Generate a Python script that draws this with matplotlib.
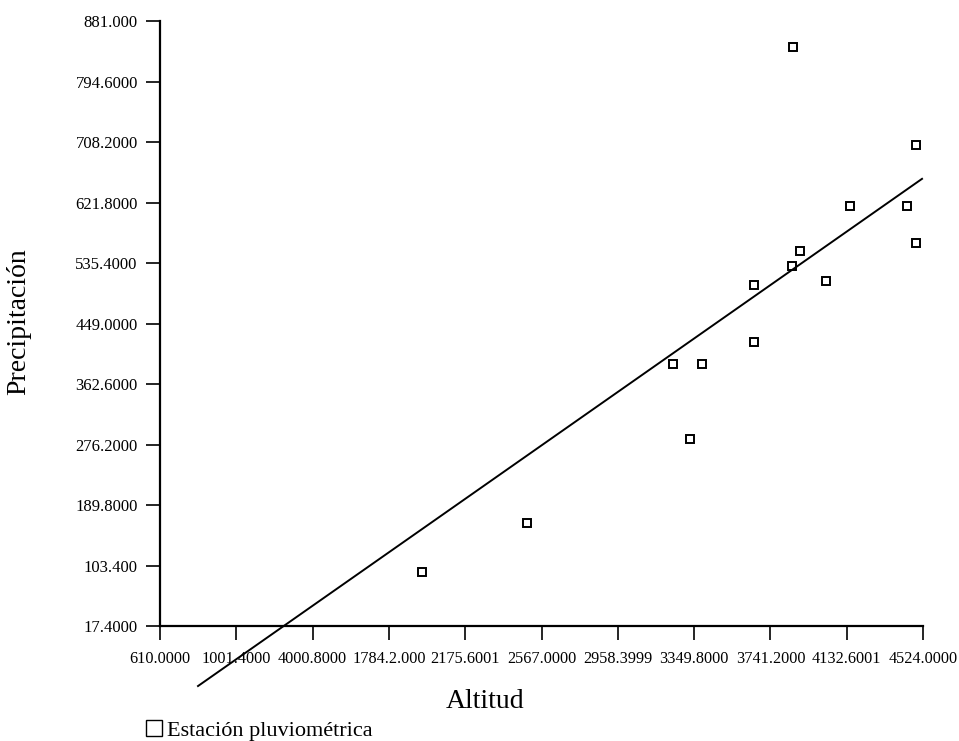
import matplotlib
matplotlib.use("Agg")
import matplotlib.pyplot as plt
from matplotlib.lines import Line2D

# Data
altitud = [1954, 2493, 3242, 3390, 3329, 3657, 3657, 3857, 3852, 3893, 4026, 4150, 4442, 4488, 4488]
precipitacion = [94.5, 164.5, 391.6, 391.6, 284.4, 504.4, 423.0, 844.3, 531.5, 553.0, 510.0, 617.2, 617.2, 704.3, 564.3]

# Regression line end points
fit_x = [805, 4519]
fit_y = [-68.3, 655.7]

x_ticks = [610.0, 1001.4, 1392.8, 1784.2, 2175.6, 2567.0, 2958.4, 3349.8, 3741.2, 4132.6, 4524.0]
x_tick_labels = ["610.0000", "1001.4000", "4000.8000", "1784.2.000", "2175.6001", "2567.0000",
                 "2958.3999", "3349.8000", "3741.2000", "4132.6001", "4524.0000"]
y_ticks = [17.4, 103.4, 189.8, 276.2, 362.6, 449.0, 535.4, 621.8, 708.2, 794.6, 881.0]
y_tick_labels = ["17.4000", "103.400", "189.8000", "276.2000", "362.6000", "449.0000",
                 "535.4000", "621.8000", "708.2000", "794.6000", "881.000"]

plt.rcParams['font.family'] = ['Liberation Serif', 'DejaVu Serif']

W, H = 959, 741
L, R, T, B = 160, 923, 21, 626

fig = plt.figure(figsize=(W / 100, H / 100), dpi=100)
ax = fig.add_axes([L / W, 1 - B / H, (R - L) / W, (B - T) / H])

ax.plot(altitud, precipitacion, linestyle='none', marker='s', markersize=5.5,
        markerfacecolor='white', markeredgecolor='black', markeredgewidth=1.4)
ax.plot(fit_x, fit_y, color='black', linewidth=1.4, clip_on=False)

ax.set_xlim(610, 4524)
ax.set_ylim(17.4, 881)
ax.set_xticks(x_ticks)
ax.set_xticklabels(x_tick_labels, fontsize=11.7)
ax.set_yticks(y_ticks)
ax.set_yticklabels(y_tick_labels, fontsize=12)
ax.tick_params(axis='both', direction='out', length=10, width=1.2)
ax.tick_params(axis='x', pad=8)
ax.tick_params(axis='y', pad=6)

ax.spines['top'].set_visible(False)
ax.spines['right'].set_visible(False)
ax.spines['left'].set_linewidth(1.6)
ax.spines['bottom'].set_linewidth(1.6)

ax.set_xlabel('Altitud', fontsize=20, ha='center', va='center')
ax.xaxis.set_label_coords((485 - L) / (R - L), -(702 - B) / (B - T))
ax.set_ylabel('Precipitación', fontsize=20, ha='center', va='center')
ax.yaxis.set_label_coords((19 - L) / (R - L), (B - 322) / (B - T))

handle = Line2D([], [], linestyle='none', marker='s', markersize=11,
                markerfacecolor='white', markeredgecolor='black', markeredgewidth=1.0)
fig.legend([handle], ['Estación pluviométrica'], loc='center left',
           bbox_to_anchor=(146 / W, 1 - 731 / H), frameon=False, fontsize=16,
           handlelength=0.7, handletextpad=0.25, borderpad=0, borderaxespad=0)

fig.savefig('out.png', dpi=100)
